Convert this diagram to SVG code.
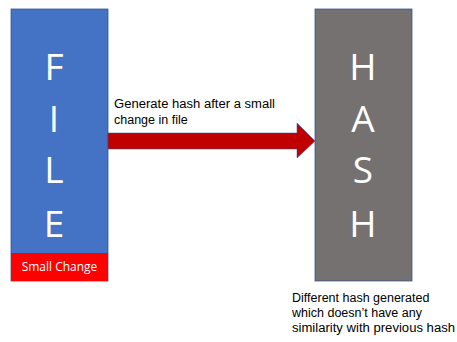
<svg xmlns="http://www.w3.org/2000/svg" width="457" height="342" viewBox="0 0 457 342">
<style>
.big{font-family:"Open Sans",sans-serif;font-size:37px;fill:#ffffff;text-anchor:middle}
.lbl{font-family:"Liberation Sans",Arial,sans-serif;font-size:12.5px;fill:#000000}
.sm{font-family:"Open Sans",sans-serif;font-size:12px;fill:#ffffff;text-anchor:middle}
</style>
<rect width="457" height="342" fill="#ffffff"/>
<g id="file">
<rect x="11" y="9" width="97" height="272" fill="#4472C4" stroke="#2F528F" stroke-width="0.75"/>
<rect x="11" y="253" width="97" height="28" fill="#FF0000"/>
<text class="big" x="54" y="80">F</text>
<text class="big" x="54" y="132">I</text>
<text class="big" x="54" y="183">L</text>
<text class="big" x="54" y="237">E</text>
<text class="sm" x="59.5" y="271">Small Change</text>
</g>
<g id="hash">
<rect x="315" y="9" width="97" height="272" fill="#767171" stroke="#2F528F" stroke-width="0.75"/>
<text class="big" x="363" y="80">H</text>
<text class="big" x="363" y="132">A</text>
<text class="big" x="363" y="183">S</text>
<text class="big" x="363" y="237">H</text>
</g>
<g id="connectors">
<polygon points="108,133 297,133 297,123 315,141 297,158 297,149 108,149" fill="#C00000" stroke="#2F528F" stroke-width="0.5"/>
<text class="lbl" x="114" y="108" textLength="161" lengthAdjust="spacingAndGlyphs">Generate hash after a small</text>
<text class="lbl" x="114" y="124">change in file</text>
</g>
<g id="note">
<text class="lbl" x="292" y="302">Different hash generated</text>
<text class="lbl" x="292" y="317">which doesn’t have any</text>
<text class="lbl" x="292" y="332" textLength="163" lengthAdjust="spacingAndGlyphs">similarity with previous hash</text>
</g>
</svg>
